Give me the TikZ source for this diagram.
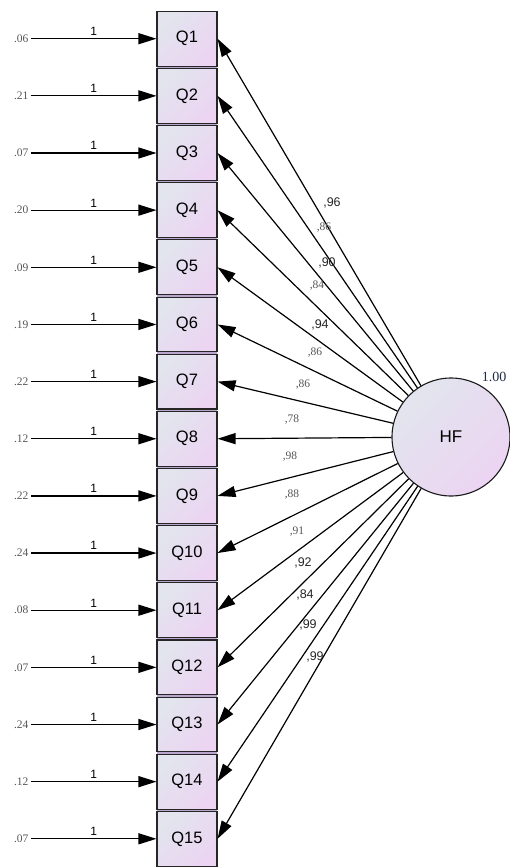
\documentclass[tikz,border=0pt]{standalone}
\usepackage{fontspec}
\setmainfont{Liberation Serif}
\setsansfont{Liberation Sans}
\usetikzlibrary{arrows.meta}

\definecolor{boxtop}{HTML}{E2E5EE}
\definecolor{boxbot}{HTML}{ECD4F2}
\definecolor{boxgap}{HTML}{B9A5CC}
\definecolor{numgrey}{HTML}{555555}
\definecolor{vardark}{HTML}{1F2A44}

\tikzset{
  item/.style={draw=black!85, line width=1.1pt, top color=boxtop,
    bottom color=boxbot, shading angle=45, minimum width=60pt,
    minimum height=54.8pt, inner sep=0pt,
    font=\sffamily\fontsize{16.5}{19}\selectfont},
  factor/.style={circle, draw=black!90, line width=1.1pt, top color=boxtop,
    bottom color=boxbot, shading angle=45, minimum size=118pt, inner sep=0pt,
    font=\sffamily\fontsize{17}{20}\selectfont},
  errlab/.style={anchor=east, inner sep=2pt, text=numgrey,
    font=\fontsize{11.5}{13}\selectfont},
  fixlab/.style={inner sep=2.5pt, font=\sffamily\fontsize{12}{14}\selectfont},
  loadsans/.style={inner sep=0pt, text=black!85,
    font=\sffamily\fontsize{12.5}{15}\selectfont},
  loadserif/.style={inner sep=0pt, text=numgrey,
    font=\fontsize{11.5}{13}\selectfont},
  >={Triangle[length=18pt,width=11pt]}
}

\begin{document}
\begin{tikzpicture}[x=1pt,y=-1pt,line width=1.2pt]
\useasboundingbox (0,0) rectangle (510,867);

% indicator column
\fill[boxgap] (157,11.3) rectangle (217,867);
\foreach \i in {1,...,15}
  \node[item] (Q\i) at (187,{38.7+57.15*(\i-1)}) {Q\i};

% error terms
\foreach \i/\e in {1/.06,2/.21,3/.07,4/.20,5/.09,6/.19,7/.22,8/.12,
                   9/.22,10/.24,11/.08,12/.07,13/.24,14/.12,15/.07}
{
  \node[errlab] (e\i) at (31,{38.7+57.15*(\i-1)}) {\e};
  \draw[->] (e\i) -- node[fixlab,above] {1} (Q\i.west);
}

% latent factor
\node[factor] (HF) at (451,437) {HF};
\node[text=vardark, inner sep=0pt, font=\fontsize{14}{16}\selectfont]
  (var) at (494,377) {1.00};

\foreach \i in {1,...,15}
  \draw[->] (HF) -- (Q\i.east);

% loadings
\foreach \i/\v/\x/\y in {1/{,96}/332/203, 3/{,90}/327/263, 5/{,94}/320/325,
                         12/{,92}/303/563, 13/{,84}/305/595,
                         14/{,99}/308/625, 15/{,99}/315/657}
  \node[loadsans] (l\i) at (\x,\y) {\v};
\foreach \i/\v/\x/\y in {2/{,86}/324/228, 4/{,84}/317/286, 6/{,86}/315/353,
                         7/{,86}/303/385, 8/{,78}/292/420, 9/{,98}/290/457,
                         10/{,88}/292/495, 11/{,91}/297/532}
  \node[loadserif] (l\i) at (\x,\y) {\v};

\end{tikzpicture}
\end{document}
